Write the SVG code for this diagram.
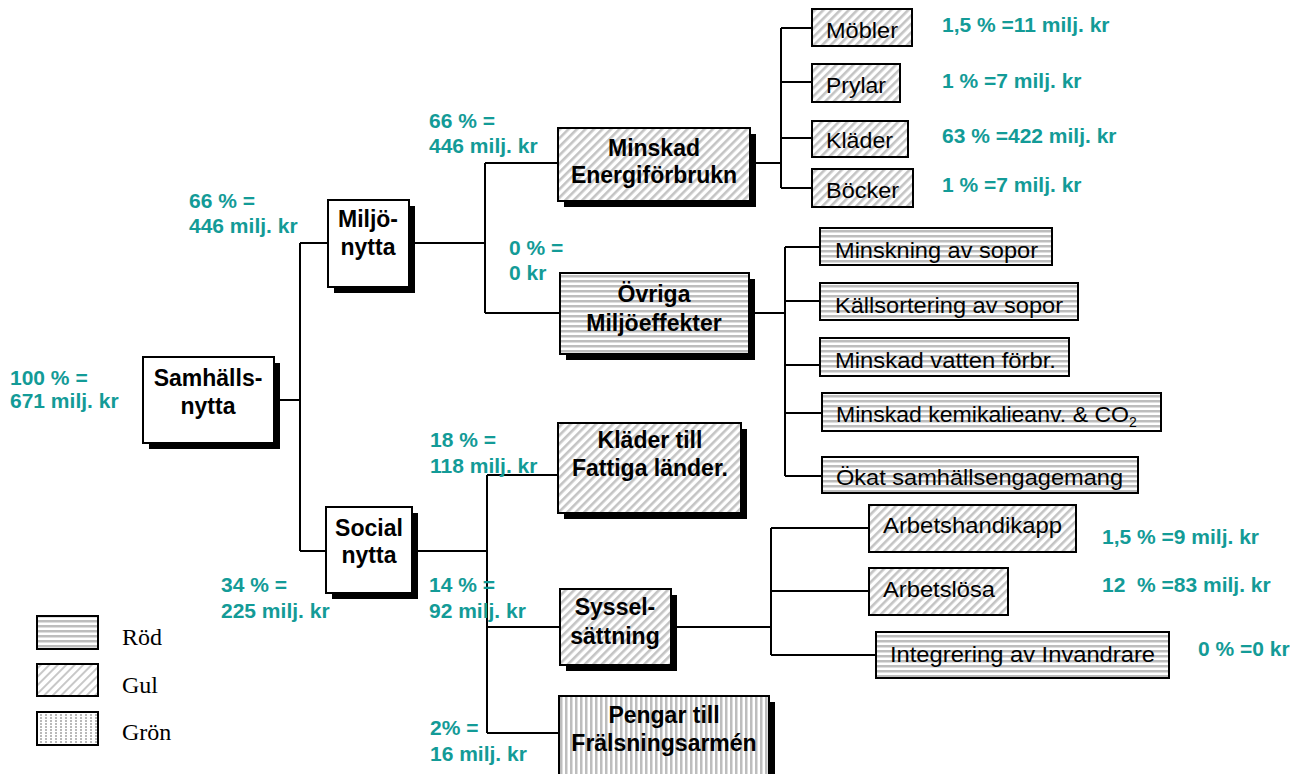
<svg xmlns="http://www.w3.org/2000/svg" width="1304" height="774" viewBox="0 0 1304 774">
<defs>
<pattern id="pH" width="6" height="5" patternUnits="userSpaceOnUse">
<rect width="6" height="5" fill="#ffffff"/>
<rect y="0" width="6" height="2.5" fill="#bdbdbd"/>
</pattern>
<pattern id="pD" width="6" height="6" patternUnits="userSpaceOnUse" patternTransform="rotate(45)">
<rect width="6" height="6" fill="#ffffff"/>
<rect x="0" width="2.6" height="6" fill="#c4c4c4"/>
</pattern>
<pattern id="pV" width="5" height="6" patternUnits="userSpaceOnUse">
<rect width="5" height="6" fill="#ffffff"/>
<rect x="0" width="2.5" height="6" fill="#bdbdbd"/>
</pattern>
<pattern id="pDl" width="6" height="6" patternUnits="userSpaceOnUse" patternTransform="rotate(45)">
<rect width="6" height="6" fill="#ffffff"/>
<rect x="0" width="2" height="6" fill="#9a9a9a" opacity="0.55"/>
</pattern>
<pattern id="pVl" width="5" height="3" patternUnits="userSpaceOnUse">
<rect width="5" height="3" fill="#ffffff"/>
<rect x="0" width="2" height="2" fill="#8a8a8a" opacity="0.6"/>
</pattern>
</defs>
<style>
.bx{stroke:#000;stroke-width:2}
.sh{fill:#000}
.t{font-family:"Liberation Sans",Arial,sans-serif;font-weight:bold;font-size:23px;fill:#000;text-anchor:middle}
.c{font-family:"Liberation Sans",Arial,sans-serif;font-size:22px;fill:#000}
.v{font-family:"Liberation Sans",Arial,sans-serif;font-weight:bold;font-size:21px;fill:#139b97;white-space:pre}
.lg{font-family:"Liberation Serif","Times New Roman",serif;font-size:24px;fill:#000}
.ln{stroke:#000;stroke-width:2;fill:none}
</style>

<g id="connectors">
<path class="ln" d="M273 400 H300 M300 243 V551 M300 243 H328 M300 551 H326"/>
<path class="ln" d="M409 243 H485 M485 163 V313 M485 163 H558 M485 313 H560"/>
<path class="ln" d="M412 551 H487 M487 475 V733 M487 475 H558 M487 627 H560 M487 733 H559"/>
<path class="ln" d="M750 163 H781 M781 28 V188 M781 28 H812 M781 82 H812 M781 138 H812 M781 188 H812"/>
<path class="ln" d="M749 313 H785 M785 247 V476 M785 247 H820 M785 301 H820 M785 365 H820 M785 413 H822 M785 476 H822"/>
<path class="ln" d="M671 627 H771 M771 528 V655 M771 528 H869 M771 591 H869 M771 655 H876"/>
</g>

<g id="samhallsnytta">
<rect class="sh" x="149" y="363" width="131" height="86"/>
<rect class="bx" x="143" y="357" width="131" height="86" fill="#fff"/>
<text class="t" x="208" y="386">Samhälls-</text>
<text class="t" x="208" y="414">nytta</text>
</g>
<g id="miljonytta">
<rect class="sh" x="334" y="206" width="81" height="87"/>
<rect class="bx" x="328" y="200" width="81" height="87" fill="#fff"/>
<text class="t" x="368" y="227">Miljö-</text>
<text class="t" x="368" y="255">nytta</text>
</g>
<g id="socialnytta">
<rect class="sh" x="332" y="513" width="86" height="86"/>
<rect class="bx" x="326" y="507" width="86" height="86" fill="#fff"/>
<text class="t" x="369" y="536">Social</text>
<text class="t" x="369" y="563">nytta</text>
</g>
<g id="energi">
<rect class="sh" x="564" y="134" width="192" height="73"/>
<rect class="bx" x="558" y="128" width="192" height="73" fill="url(#pD)"/>
<text class="t" x="654" y="156">Minskad</text>
<text class="t" x="654" y="183">Energiförbrukn</text>
</g>
<g id="ovriga">
<rect class="sh" x="566" y="279" width="189" height="81"/>
<rect class="bx" x="560" y="273" width="189" height="81" fill="url(#pH)"/>
<text class="t" x="654" y="302">Övriga</text>
<text class="t" x="654" y="331">Miljöeffekter</text>
</g>
<g id="kladertill">
<rect class="sh" x="564" y="429" width="183" height="90"/>
<rect class="bx" x="558" y="423" width="183" height="90" fill="url(#pD)"/>
<text class="t" x="650" y="448">Kläder till</text>
<text class="t" x="650" y="476">Fattiga länder.</text>
</g>
<g id="syssel">
<rect class="sh" x="566" y="595" width="111" height="76"/>
<rect class="bx" x="560" y="589" width="111" height="76" fill="url(#pD)"/>
<text class="t" x="615" y="615">Syssel-</text>
<text class="t" x="615" y="644">sättning</text>
</g>
<g id="pengar">
<rect class="sh" x="565" y="702" width="210" height="80"/>
<rect class="bx" x="559" y="696" width="210" height="80" fill="url(#pV)"/>
<text class="t" x="664" y="723">Pengar till</text>
<text class="t" x="664" y="751">Frälsningsarmén</text>
</g>

<g id="mobler"><rect class="bx" x="812" y="9" width="100" height="37" fill="url(#pD)"/><text class="c" x="826" y="38" textLength="72" lengthAdjust="spacingAndGlyphs">Möbler</text></g>
<g id="prylar"><rect class="bx" x="812" y="64" width="88" height="38" fill="url(#pD)"/><text class="c" x="826" y="93" textLength="60" lengthAdjust="spacingAndGlyphs">Prylar</text></g>
<g id="klader"><rect class="bx" x="812" y="121" width="96" height="36" fill="url(#pD)"/><text class="c" x="826" y="148" textLength="67" lengthAdjust="spacingAndGlyphs">Kläder</text></g>
<g id="bocker"><rect class="bx" x="812" y="169" width="101" height="38" fill="url(#pD)"/><text class="c" x="826" y="198" textLength="73" lengthAdjust="spacingAndGlyphs">Böcker</text></g>

<g id="minskning"><rect class="bx" x="820" y="228" width="232" height="37" fill="url(#pH)"/><text class="c" x="835" y="258" textLength="203" lengthAdjust="spacingAndGlyphs">Minskning av sopor</text></g>
<g id="kallsortering"><rect class="bx" x="820" y="283" width="258" height="37" fill="url(#pH)"/><text class="c" x="835" y="313" textLength="228" lengthAdjust="spacingAndGlyphs">Källsortering av sopor</text></g>
<g id="vatten"><rect class="bx" x="820" y="338" width="249" height="38" fill="url(#pH)"/><text class="c" x="835" y="368" textLength="221" lengthAdjust="spacingAndGlyphs">Minskad vatten förbr.</text></g>
<g id="kemikalie"><rect class="bx" x="822" y="393" width="339" height="38" fill="url(#pH)"/><text class="c" x="836" y="422"><tspan textLength="293" lengthAdjust="spacingAndGlyphs">Minskad kemikalieanv. &amp; CO</tspan><tspan font-size="14" dy="5">2</tspan></text></g>
<g id="okat"><rect class="bx" x="822" y="457" width="316" height="36" fill="url(#pH)"/><text class="c" x="836" y="485" textLength="287" lengthAdjust="spacingAndGlyphs">Ökat samhällsengagemang</text></g>

<g id="arbetshandikapp"><rect class="bx" x="869" y="505" width="207" height="47" fill="url(#pD)"/><text class="c" x="883" y="533" textLength="179" lengthAdjust="spacingAndGlyphs">Arbetshandikapp</text></g>
<g id="arbetslosa"><rect class="bx" x="869" y="568" width="139" height="47" fill="url(#pD)"/><text class="c" x="883" y="597" textLength="112" lengthAdjust="spacingAndGlyphs">Arbetslösa</text></g>
<g id="integrering"><rect class="bx" x="876" y="632" width="293" height="46" fill="url(#pH)"/><text class="c" x="890" y="662" textLength="265" lengthAdjust="spacingAndGlyphs">Integrering av Invandrare</text></g>

<g id="values">
<text class="v" x="10" y="385">100 % =</text>
<text class="v" x="10" y="408">671 milj. kr</text>
<text class="v" x="189" y="208">66 % =</text>
<text class="v" x="189" y="233">446 milj. kr</text>
<text class="v" x="429" y="128">66 % =</text>
<text class="v" x="429" y="153">446 milj. kr</text>
<text class="v" x="509" y="255">0 % =</text>
<text class="v" x="509" y="280">0 kr</text>
<text class="v" x="430" y="447">18 % =</text>
<text class="v" x="430" y="473">118 milj. kr</text>
<text class="v" x="221" y="592">34 % =</text>
<text class="v" x="221" y="618">225 milj. kr</text>
<text class="v" x="429" y="592">14 % =</text>
<text class="v" x="429" y="618">92 milj. kr</text>
<text class="v" x="430" y="735">2% =</text>
<text class="v" x="430" y="761">16 milj. kr</text>
<text class="v" x="942" y="32">1,5 % =11 milj. kr</text>
<text class="v" x="942" y="88">1 % =7 milj. kr</text>
<text class="v" x="942" y="143">63 % =422 milj. kr</text>
<text class="v" x="942" y="192">1 % =7 milj. kr</text>
<text class="v" x="1102" y="544">1,5 % =9 milj. kr</text>
<text class="v" x="1102" y="592">12  % =83 milj. kr</text>
<text class="v" x="1198" y="656">0 % =0 kr</text>
</g>

<g id="legend">
<rect class="bx" x="37" y="616" width="61" height="33" fill="url(#pH)" stroke-width="1.5"/>
<text class="lg" x="122" y="645">Röd</text>
<rect class="bx" x="37" y="664" width="61" height="32" fill="url(#pDl)" stroke-width="1.5"/>
<text class="lg" x="122" y="693">Gul</text>
<rect class="bx" x="37" y="712" width="61" height="33" fill="url(#pVl)" stroke-width="1.5"/>
<text class="lg" x="122" y="740">Grön</text>
</g>
</svg>
